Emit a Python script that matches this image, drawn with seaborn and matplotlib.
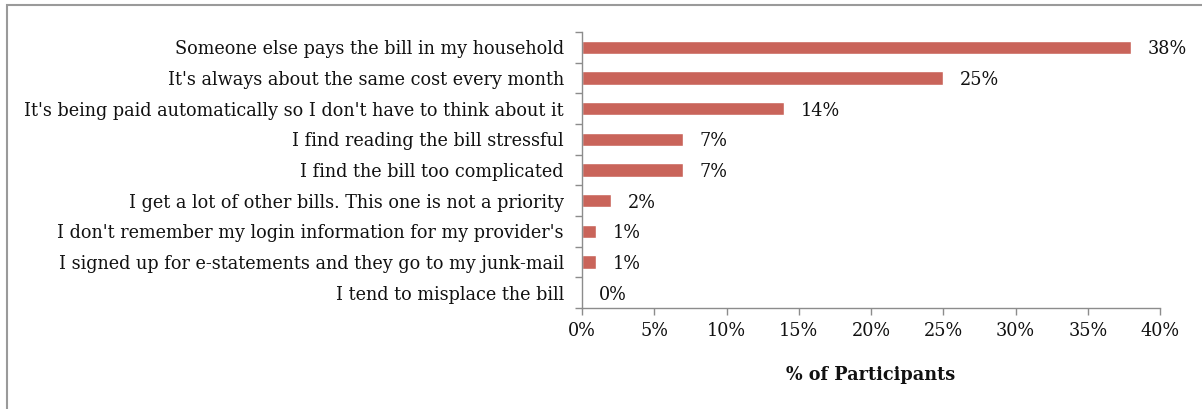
import numpy as np
import pandas as pd
import matplotlib
matplotlib.use("Agg")
import matplotlib.pyplot as plt
from matplotlib.patches import Rectangle
from matplotlib.ticker import FuncFormatter
import seaborn as sns

reasons = [
    "Someone else pays the bill in my household",
    "It's always about the same cost every month",
    "It's being paid automatically so I don't have to think about it",
    "I find reading the bill stressful",
    "I find the bill too complicated",
    "I get a lot of other bills. This one is not a priority",
    "I don't remember my login information for my provider's",
    "I signed up for e-statements and they go to my junk-mail",
    "I tend to misplace the bill",
]
percent = [38, 25, 14, 7, 7, 2, 1, 1, 0]
x_ticks = [0, 5, 10, 15, 20, 25, 30, 35, 40]
x_title = "% of Participants"

sns.set_theme(style="white")
plt.rcParams["font.family"] = ["DejaVu Serif"]

df = pd.DataFrame({"reason": reasons, "percent": percent})

W, H = 1202, 409
fig = plt.figure(figsize=(W / 100, H / 100), dpi=100)
ax = fig.add_axes([582 / W, 1 - 308 / H, (1160 - 582) / W, (308 - 32) / H])

bar_color = "#C9645A"
sns.barplot(data=df, x="percent", y="reason", orient="h", color=bar_color,
            width=0.44, saturation=1, ax=ax)

n = len(reasons)
ax.set_xlim(0, 40)
ax.set_ylim(n - 0.5, -0.5)

ax.set_xticks(x_ticks)
ax.xaxis.set_major_formatter(FuncFormatter(lambda v, _: f"{v:.0f}%"))
ax.set_yticks(range(n))
ax.set_yticklabels(reasons)
ax.set_yticks(np.arange(-0.5, n + 0.5, 1), minor=True)

label_size = 12.7
text_color = "#111111"
ax.tick_params(axis="y", which="major", length=0, pad=13,
               labelsize=label_size, labelcolor=text_color)
ax.tick_params(axis="y", which="minor", length=5, width=1, color="#8c8c8c",
               left=True)
ax.tick_params(axis="x", which="major", length=5, width=1, color="#8c8c8c",
               bottom=True, labelsize=label_size, labelcolor=text_color, pad=5)

for side in ("top", "right"):
    ax.spines[side].set_visible(False)
for side in ("left", "bottom"):
    ax.spines[side].set_color("#8c8c8c")
    ax.spines[side].set_linewidth(1)

ax.set_ylabel("")
ax.set_xlabel(x_title, fontsize=label_size, fontweight="bold", color=text_color,
              labelpad=19)

for cont in ax.containers:
    value_texts = ax.bar_label(cont, labels=[f"{v}%" for v in percent],
                               padding=12, fontsize=label_size, color=text_color)
    for t in value_texts:
        t.set_verticalalignment("center_baseline")

fig.add_artist(Rectangle((7 / W, -0.1), 1.2, (1 - 5 / H) + 0.1,
                         transform=fig.transFigure, fill=False,
                         edgecolor="#9a9a9a", linewidth=1.5))

fig.savefig("out.png", dpi=100, facecolor="white")
